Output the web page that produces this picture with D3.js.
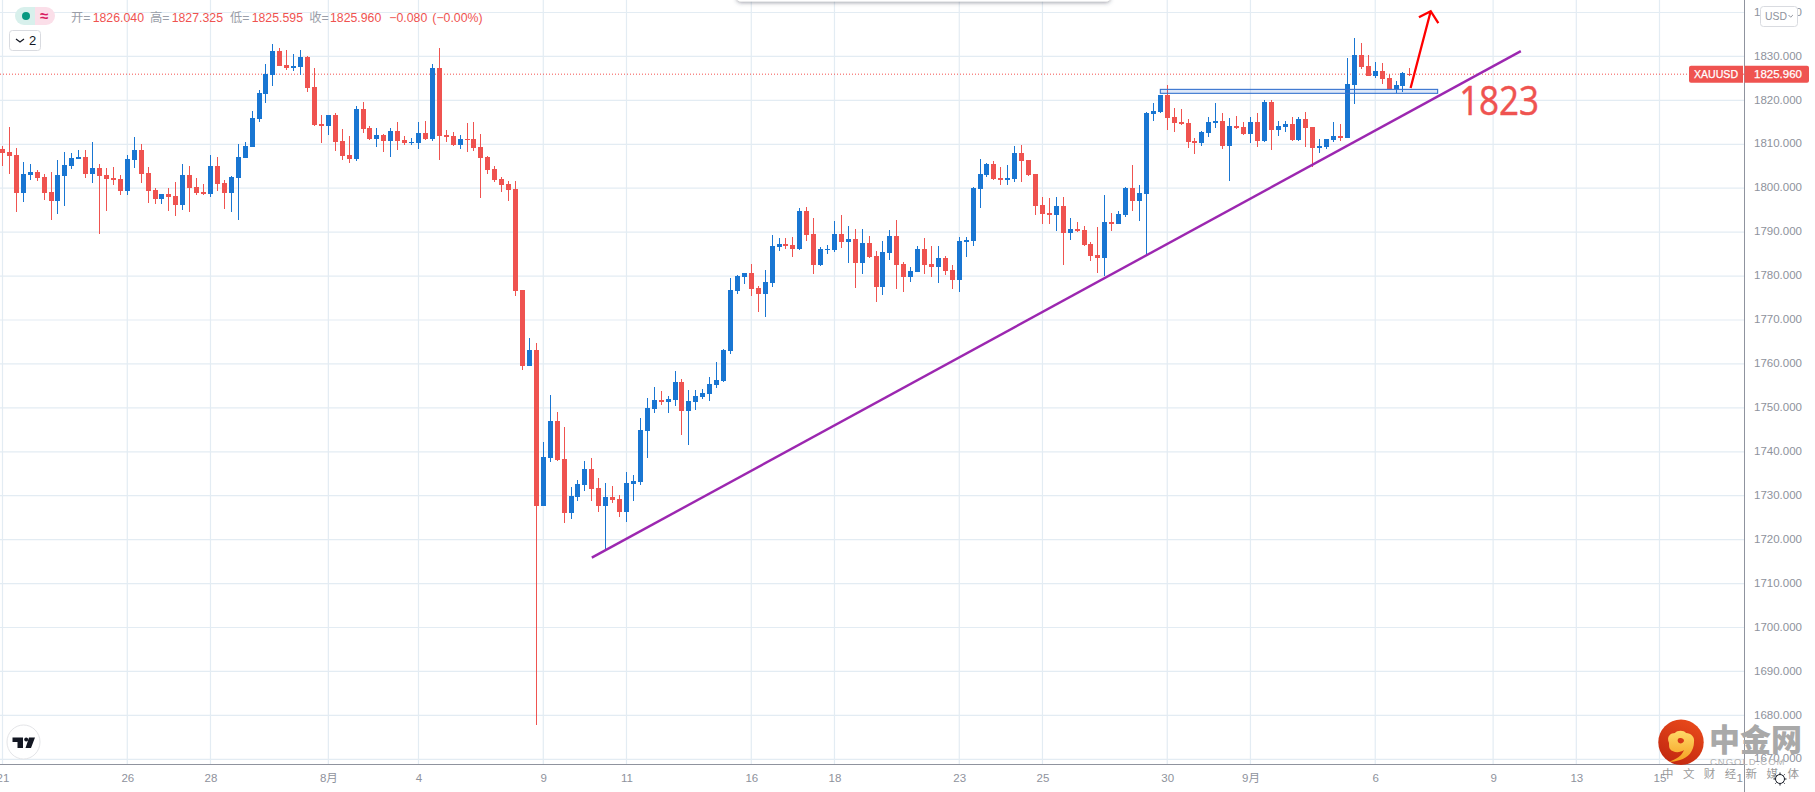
<!DOCTYPE html>
<html><head><meta charset="utf-8">
<script src="https://cdn.jsdelivr.net/npm/d3@7/dist/d3.min.js"></script>
<style>
html,body{margin:0;padding:0;background:#fff;overflow:hidden}
svg{display:block;font-family:"Liberation Sans","Noto Sans CJK SC",sans-serif}
.axis path,.axis line{display:none}
.axis text{fill:#8e929c;font-size:11.5px;font-family:"Liberation Sans","Noto Sans CJK SC",sans-serif}
</style></head><body>
<svg id="c" width="1815" height="792"></svg>
<script>
const opens=[1808.9,1808.2,1807.6,1798.9,1803.0,1803.7,1802.6,1799.1,1797.1,1802.8,
1805.1,1806.7,1807.1,1803.2,1804.6,1803.0,1802.3,1802.1,1799.4,1806.4,
1808.7,1803.5,1799.6,1797.6,1798.7,1798.2,1796.2,1803.0,1800.3,1799.1,
1798.7,1805.1,1801.2,1798.9,1802.3,1806.9,1809.4,1815.8,1821.5,1825.8,
1831.2,1828.1,1827.4,1827.6,1829.9,1823.1,1814.6,1814.2,1816.7,1810.8,
1807.6,1806.7,1818.0,1813.7,1811.2,1812.1,1810.8,1813.0,1811.0,1810.3,
1810.3,1812.6,1811.2,1827.4,1812.1,1811.9,1809.8,1811.2,1811.2,1809.4,
1807.1,1804.4,1802.1,1801.0,1799.8,1776.8,1759.5,1763.2,1727.7,1738.6,
1747.0,1738.4,1726.1,1729.7,1732.5,1736.1,1731.8,1727.7,1729.7,1729.3,
1726.3,1732.7,1733.1,1744.7,1749.8,1751.8,1751.3,1751.8,1755.9,1749.3,
1751.3,1752.5,1753.2,1755.2,1756.1,1763.0,1776.6,1779.8,1780.7,1777.3,
1775.9,1778.4,1786.6,1787.3,1787.1,1786.2,1794.8,1789.6,1782.5,1785.9,
1785.9,1789.6,1787.8,1788.4,1783.0,1787.5,1784.6,1777.5,1785.3,1789.1,
1782.8,1779.8,1780.9,1786.2,1782.8,1782.1,1784.1,1781.4,1779.1,1787.8,
1788.0,1799.8,1803.0,1805.5,1802.3,1801.9,1802.1,1808.0,1806.4,1803.2,
1796.2,1794.4,1793.9,1796.0,1789.8,1790.7,1790.5,1787.3,1784.8,1784.1,
1792.3,1791.9,1793.9,1800.1,1797.1,1798.7,1816.9,1817.4,1821.2,1816.2,
1815.1,1814.8,1810.8,1810.3,1812.6,1814.8,1815.3,1809.6,1814.2,1813.9,
1812.3,1815.1,1810.8,1819.6,1813.3,1813.9,1814.6,1811.0,1815.8,1813.9,
1809.2,1809.4,1811.0,1811.9,1811.4,1823.5,1830.3,1827.8,1825.5,1826.7,
1825.1,1822.6,1823.3,1826.04];
const closes=[1808.1,1807.3,1798.9,1803.2,1803.7,1802.3,1798.9,1797.1,1803.0,1805.3,
1806.9,1807.1,1803.2,1804.6,1802.8,1802.1,1801.9,1799.4,1806.7,1808.7,
1803.2,1799.4,1797.6,1798.7,1798.0,1796.2,1803.0,1800.1,1798.9,1798.7,
1805.1,1801.0,1798.9,1802.6,1807.1,1809.6,1816.0,1821.7,1826.0,1831.2,
1827.8,1827.4,1827.8,1829.9,1822.8,1814.4,1814.2,1816.7,1810.5,1807.3,
1806.7,1818.0,1813.5,1811.2,1812.1,1810.8,1813.0,1810.8,1810.3,1810.5,
1812.6,1811.2,1827.4,1811.9,1811.7,1809.8,1811.2,1811.0,1809.2,1806.9,
1804.1,1801.9,1800.7,1799.6,1776.6,1759.5,1763.2,1727.7,1738.8,1747.0,
1738.1,1726.1,1730.0,1732.7,1736.1,1731.5,1727.7,1729.7,1729.0,1726.3,
1732.9,1733.4,1745.0,1750.0,1751.8,1751.3,1752.0,1755.9,1749.3,1751.6,
1752.7,1753.4,1755.4,1756.4,1763.2,1776.8,1780.0,1780.7,1777.1,1775.9,
1778.7,1786.9,1787.3,1786.9,1786.2,1794.8,1789.4,1782.5,1786.2,1786.2,
1789.6,1787.8,1788.4,1783.0,1787.5,1784.4,1777.5,1785.5,1789.1,1782.5,
1779.8,1781.2,1786.2,1782.5,1782.1,1784.1,1781.2,1779.1,1788.0,1788.2,
1800.1,1803.2,1805.5,1802.1,1801.9,1802.3,1808.0,1806.2,1803.0,1796.0,
1794.1,1793.9,1796.0,1789.8,1790.7,1790.3,1787.1,1784.6,1784.1,1792.3,
1791.9,1794.1,1800.1,1797.1,1798.9,1817.1,1817.6,1821.2,1816.0,1814.8,
1814.6,1810.5,1810.3,1812.8,1815.1,1815.3,1809.6,1814.2,1813.7,1812.3,
1815.1,1810.8,1819.6,1813.3,1814.2,1814.6,1811.0,1815.8,1813.7,1809.2,
1809.6,1811.2,1811.9,1811.4,1823.7,1830.3,1827.6,1825.5,1826.7,1824.9,
1822.6,1823.5,1826.2,1825.96];
const highs=[1809.6,1813.9,1809.2,1806.0,1805.5,1804.1,1803.2,1803.7,1806.4,1808.2,
1808.0,1808.7,1808.7,1810.5,1805.5,1804.6,1804.8,1803.0,1807.6,1811.7,
1810.1,1804.8,1800.1,1798.7,1800.1,1801.4,1805.5,1805.1,1802.3,1801.0,
1807.6,1807.1,1801.9,1802.8,1810.1,1810.5,1817.6,1822.4,1828.3,1832.8,
1831.9,1831.5,1830.6,1831.5,1830.1,1827.4,1816.7,1816.7,1817.1,1813.5,
1811.9,1818.7,1819.6,1814.2,1813.7,1812.3,1813.7,1815.1,1811.9,1811.4,
1815.1,1815.3,1828.3,1831.9,1813.3,1812.8,1812.1,1814.9,1815.1,1812.3,
1807.3,1805.1,1802.6,1801.6,1801.6,1776.8,1765.9,1764.8,1742.2,1752.9,
1749.1,1745.7,1732.0,1733.6,1737.9,1738.6,1734.1,1732.9,1732.2,1730.2,
1735.4,1734.7,1747.7,1752.3,1754.8,1753.9,1752.7,1758.4,1756.6,1754.1,
1754.1,1754.3,1757.0,1760.5,1763.4,1779.6,1780.3,1780.7,1782.8,1777.8,
1781.4,1789.4,1788.7,1788.7,1788.9,1795.5,1795.7,1793.2,1786.6,1787.1,
1792.5,1793.9,1791.4,1790.7,1790.7,1789.1,1785.7,1788.0,1790.5,1792.8,
1783.2,1782.1,1786.9,1788.7,1786.9,1786.9,1784.6,1782.5,1788.9,1788.9,
1800.3,1806.7,1805.7,1806.2,1804.8,1805.3,1809.6,1809.8,1806.4,1803.2,
1798.0,1797.8,1798.0,1798.0,1793.2,1792.3,1791.4,1787.8,1791.2,1798.5,
1794.4,1794.8,1800.3,1805.3,1800.7,1817.4,1819.4,1821.2,1823.5,1818.3,
1818.0,1815.8,1811.4,1813.0,1816.2,1819.4,1817.1,1816.0,1816.4,1815.1,
1816.2,1817.1,1820.1,1820.1,1815.3,1815.3,1816.2,1816.2,1817.4,1813.9,
1811.2,1811.2,1815.1,1814.6,1829.6,1834.2,1833.1,1830.3,1828.7,1828.5,
1826.0,1824.4,1826.5,1827.325];
const lows=[1805.1,1803.2,1794.6,1796.9,1801.9,1801.6,1797.3,1792.8,1794.1,1796.0,
1804.4,1806.7,1802.3,1801.2,1789.6,1794.8,1800.7,1798.5,1798.5,1804.6,
1801.2,1796.6,1796.4,1796.4,1794.8,1793.7,1795.1,1794.6,1798.5,1798.5,
1798.0,1799.4,1795.3,1794.6,1792.8,1806.9,1809.4,1815.1,1819.4,1823.3,
1827.8,1826.9,1826.7,1825.8,1821.9,1814.2,1810.3,1812.1,1808.5,1806.4,
1805.7,1806.2,1812.6,1811.0,1809.4,1808.2,1807.1,1808.7,1809.8,1809.8,
1808.9,1811.0,1810.8,1806.4,1810.5,1809.6,1808.9,1808.2,1808.5,1797.8,
1803.2,1801.4,1799.1,1797.1,1775.5,1758.6,1759.5,1677.7,1727.7,1737.7,
1737.9,1723.8,1724.7,1728.8,1731.1,1728.8,1726.3,1717.7,1728.4,1725.2,
1724.0,1728.8,1732.5,1738.6,1748.8,1750.7,1748.8,1750.4,1743.8,1741.6,
1749.5,1752.0,1751.6,1754.5,1755.9,1762.3,1775.9,1778.2,1775.5,1771.8,
1770.7,1777.5,1785.7,1786.2,1784.4,1785.9,1788.0,1780.5,1782.3,1785.0,
1785.5,1786.4,1783.0,1777.3,1780.5,1784.1,1774.1,1775.7,1783.7,1777.1,
1776.4,1778.7,1780.9,1780.5,1779.8,1778.4,1780.3,1777.1,1776.4,1784.4,
1786.9,1795.5,1802.6,1801.9,1800.7,1800.7,1801.4,1801.4,1802.8,1793.9,
1791.9,1791.9,1790.3,1782.5,1788.2,1790.0,1786.9,1783.4,1780.7,1780.0,
1790.3,1791.9,1793.5,1794.8,1792.5,1784.8,1815.3,1817.1,1813.3,1812.8,
1814.4,1809.2,1807.8,1809.6,1811.7,1813.7,1808.9,1801.6,1813.5,1812.1,
1810.3,1809.4,1810.5,1808.7,1811.9,1812.8,1810.8,1810.8,1809.4,1804.8,
1808.0,1808.9,1810.5,1810.8,1811.4,1819.2,1827.1,1825.5,1825.1,1823.7,
1822.6,1821.7,1821.9,1825.595];
const priceTicks=[1840,1830,1820,1810,1800,1790,1780,1770,1760,1750,1740,1730,1720,1710,1700,1690,1680,1670];
const timeTickIndex=[0,18,30,47,60,78,90,108,120,138,150,168,180,198,215,227,239];
const timeTickLabels=["21","26","28","8月","4","9","11","16","18","23","25","30","9月","6","9","13","15"];
const clippedTickIndex=[250.5];
const clippedTickLabels=["1"];
const lastPrice=1825.96;
const symbolName="XAUUSD";
const trendIndex=[85,219];
const trendPrice=[1715.9,1831.2];
const zoneIndex=[167,207];
const zonePrice=[1822.5,1821.6];
const arrowIndex=[203.1,206,204.3,207.1];
const arrowPrice=[1822.8,1840.3,1838.9,1837.6];
const noteIndex=[210.1];
const notePrice=[1816.7];
const noteLabels=["1823"];

const W=1815,H=792,plotR=1744,plotB=764;
const x=d3.scaleLinear().domain([0,239]).range([2.5,1659.5]);
const y=d3.scaleLinear().domain([1670,1840]).range([759.3,12.5]);
const BLUE="#1976d2",RED="#ef5350",GRID="#e3ecf3";
const svg=d3.select("#c");
svg.append("defs").append("clipPath").attr("id","plot").append("rect").attr("width",plotR).attr("height",plotB);
const defs=svg.select("defs");
const lg=defs.append("linearGradient").attr("id","wmg").attr("x1",.7).attr("y1",0).attr("x2",.2).attr("y2",1);
lg.append("stop").attr("offset",0).attr("stop-color","#e8491b");
lg.append("stop").attr("offset",1).attr("stop-color","#c0260f");
const lg2=defs.append("linearGradient").attr("id","wmy").attr("x1",0).attr("y1",0).attr("x2",0).attr("y2",1);
lg2.append("stop").attr("offset",0).attr("stop-color","#ffd968");
lg2.append("stop").attr("offset",1).attr("stop-color","#f5a020");
const f=defs.append("filter").attr("id","shadow").attr("x","-5%").attr("y","-100%").attr("width","110%").attr("height","400%");
f.append("feDropShadow").attr("dx",0).attr("dy",1).attr("stdDeviation",2).attr("flood-color","#3a3f52").attr("flood-opacity",.55);

const plot=svg.append("g").attr("clip-path","url(#plot)");
// grid
plot.append("g").selectAll("line").data(priceTicks).join("line")
 .attr("x1",0).attr("x2",plotR).attr("y1",d=>y(d)).attr("y2",d=>y(d)).attr("stroke",GRID).attr("stroke-width",1.2);
plot.append("g").selectAll("line").data(timeTickIndex).join("line")
 .attr("x1",d=>x(d)).attr("x2",d=>x(d)).attr("y1",0).attr("y2",plotB).attr("stroke",GRID).attr("stroke-width",1.2);
// last price line
plot.append("line").attr("x1",0).attr("x2",plotR).attr("y1",y(lastPrice)).attr("y2",y(lastPrice))
 .attr("stroke","#f4504d").attr("stroke-width",1).attr("stroke-dasharray","1 2");
// candles
const candles=opens.map((o,i)=>({i,o,c:closes[i],h:highs[i],l:lows[i]}));
const col=d=>d.c>=d.o?BLUE:RED;
const g=plot.append("g").attr("shape-rendering","crispEdges");
g.selectAll("rect.w").data(candles).join("rect").attr("class","w")
 .attr("x",d=>Math.floor(x(d.i))).attr("width",1)
 .attr("y",d=>y(d.h)).attr("height",d=>y(d.l)-y(d.h)).attr("fill",col);
g.selectAll("rect.b").data(candles).join("rect").attr("class","b")
 .attr("x",d=>Math.floor(x(d.i))-2).attr("width",5)
 .attr("y",d=>y(Math.max(d.o,d.c))).attr("height",d=>Math.max(1,Math.abs(y(d.o)-y(d.c)))).attr("fill",col);
// zone rectangle
plot.append("rect").attr("x",x(zoneIndex[0])).attr("width",x(zoneIndex[1])-x(zoneIndex[0]))
 .attr("y",y(zonePrice[0])).attr("height",y(zonePrice[1])-y(zonePrice[0]))
 .attr("fill","rgba(33,100,210,.15)").attr("stroke","#3673cf").attr("stroke-width",1.1);
// trend line
plot.append("line").attr("x1",x(trendIndex[0])).attr("y1",y(trendPrice[0])).attr("x2",x(trendIndex[1])).attr("y2",y(trendPrice[1]))
 .attr("stroke","#9c27b0").attr("stroke-width",2.4);
// arrow
const ap=i=>[x(arrowIndex[i]),y(arrowPrice[i])];
plot.append("path").attr("d",d3.line()([ap(0),ap(1)])+d3.line()([ap(2),ap(1),ap(3)]))
 .attr("fill","none").attr("stroke","#ff0000").attr("stroke-width",2.3);
// note
plot.append("text").data(noteLabels).attr("x",x(noteIndex[0])).attr("y",y(notePrice[0])).text(d=>d)
 .attr("font-size",41).attr("textLength",80).attr("lengthAdjust","spacingAndGlyphs").attr("fill",RED)
 .attr("stroke",RED).attr("stroke-width",.5)
 .attr("font-family","'Open Sans','Liberation Sans',sans-serif");
// axes
svg.append("line").attr("x1",plotR+.5).attr("x2",plotR+.5).attr("y1",0).attr("y2",H).attr("stroke","#8f939e").attr("stroke-width",1);
svg.append("line").attr("x1",0).attr("x2",plotR).attr("y1",plotB+.5).attr("y2",plotB+.5).attr("stroke","#8f939e").attr("stroke-width",1);
svg.append("g").attr("class","axis").attr("transform",`translate(${plotR},-1)`)
 .call(d3.axisRight(y).tickValues(priceTicks).tickSize(0).tickPadding(10).tickFormat(d3.format(".3f")));
const allIdx=timeTickIndex.concat(clippedTickIndex),allLab=timeTickLabels.concat(clippedTickLabels);
svg.append("g").attr("class","axis").attr("transform",`translate(0,${plotB})`)
 .call(d3.axisBottom(x).tickValues(allIdx).tickSize(0).tickPadding(10).tickFormat((d,i)=>allLab[i]));
// last price labels
const ly=y(lastPrice);
svg.append("path").attr("d",`M1691 ${ly-8.5}H1743V${ly+8.5}H1691a2 2 0 0 1-2-2v-13a2 2 0 0 1 2-2z`).attr("fill",RED);
svg.append("path").attr("d",`M1744.5 ${ly-8.5}H1807a2 2 0 0 1 2 2v13a2 2 0 0 1-2 2H1744.5z`).attr("fill",RED);
svg.append("text").attr("x",1716).attr("y",ly+4).attr("text-anchor","middle").attr("fill","#fff").attr("font-size",10.6).attr("stroke","#fff").attr("stroke-width",.25).text(symbolName);
svg.append("text").attr("x",1778).attr("y",ly+4).attr("text-anchor","middle").attr("fill","#fff").attr("font-size",11.5).attr("stroke","#fff").attr("stroke-width",.25).text(d3.format(".3f")(lastPrice));
// USD button
svg.append("rect").attr("x",1760.5).attr("y",6.5).attr("width",37).attr("height",20).attr("rx",3).attr("fill","#fff").attr("stroke","#d9dbe0");
svg.append("text").attr("x",1765).attr("y",20).attr("fill","#8e929c").attr("font-size",10.4).text("USD");
svg.append("path").attr("d","M1788.5 15l2.2 2.2 2.2-2.2").attr("fill","none").attr("stroke","#8e929c");
// top toolbar edge
svg.append("rect").attr("x",737).attr("y",-12).attr("width",373).attr("height",13.5).attr("rx",4).attr("fill","#fff").attr("filter","url(#shadow)");
// legend
svg.append("path").attr("d","M24 7H35V25H24a9 9 0 0 1 0-18z").attr("fill","#d8f0ec");
svg.append("path").attr("d","M35 7H46a9 9 0 0 1 0 18H35z").attr("fill","#fbdfe9");
svg.append("circle").attr("cx",26).attr("cy",16).attr("r",4).attr("fill","#089981");
svg.append("text").attr("x",44).attr("y",21).attr("text-anchor","middle").attr("font-size",15).attr("font-weight","bold").attr("fill","#d81b60").text("≈");
const legendParts=[["开=",71,"#9a9ea8"],["1826.040",92.7,RED],["高=",150,"#9a9ea8"],["1827.325",171.7,RED],["低=",230,"#9a9ea8"],["1825.595",251.7,RED],["收=",309.3,"#9a9ea8"],["1825.960",330,RED],["−0.080",389.3,RED],["(−0.00%)",432.3,RED]];
svg.append("g").selectAll("text").data(legendParts).join("text").attr("x",d=>d[1]).attr("y",21.5).attr("fill",d=>d[2]).attr("font-size",12.3).text(d=>d[0]);
svg.append("rect").attr("x",9.5).attr("y",30.5).attr("width",31).attr("height",20).attr("rx",3).attr("fill","#fff").attr("stroke","#d9dbe0");
svg.append("path").attr("d","M16 39l4 3 4-3").attr("fill","none").attr("stroke","#131722").attr("stroke-width",1.2);
svg.append("text").attr("x",29).attr("y",45).attr("font-size",13).attr("fill","#131722").text("2");
// TV logo
svg.append("ellipse").attr("cx",23.5).attr("cy",742).attr("rx",16.5).attr("ry",17).attr("fill","#fff").attr("stroke","#e4e5e8").attr("stroke-width",1);
svg.append("path").attr("d","M12.5 737.5H23V748H17.5V742H12.5ZM29 737.5H35L31 748H25.5Z").attr("fill","#131722");
svg.append("circle").attr("cx",26.2).attr("cy",739.6).attr("r",2).attr("fill","#131722");
// watermark
svg.append("circle").attr("cx",1681).attr("cy",742.3).attr("r",22.7).attr("fill","url(#wmg)");
svg.append("path").attr("d","M1669 743c-3-7 2-10 6-10 2-3 9-3 11 0 5 0 9 4 8 9 0 9-6 16-14 18-4 1-8 2-11 2 7-3 13-6 15-12-4 3-11 3-14-1-1-1-1-4-1-6zm9-1c1 2 5 2 6-1 0-3-3-3-4-3-2 0-3 2-2 4z").attr("fill","url(#wmy)");
svg.append("text").attr("x",1709).attr("y",751).attr("font-size",31).attr("font-weight",900).attr("fill","#a9a9a9").attr("font-family","'Noto Sans CJK SC'").text("中金网");
svg.append("text").attr("x",1710).attr("y",765).attr("font-size",9.5).attr("fill","#b4b4b4").attr("letter-spacing",1).text("CNGOLD.COM");
svg.append("text").attr("x",1662).attr("y",778).attr("font-size",11.5).attr("fill","#9a9a9a").attr("letter-spacing",9.4).attr("font-family","'Noto Sans CJK SC'").text("中文财经新媒体");
// settings icon
const gear=svg.append("g").attr("transform","translate(1780,779)").attr("fill","none").attr("stroke","#131722");
gear.append("circle").attr("r",4.5).attr("fill","#fff");
gear.selectAll("line").data(d3.range(8)).join("line").attr("x1",d=>5*Math.cos(d*Math.PI/4)).attr("y1",d=>5*Math.sin(d*Math.PI/4)).attr("x2",d=>6.5*Math.cos(d*Math.PI/4)).attr("y2",d=>6.5*Math.sin(d*Math.PI/4));
</script></body></html>
